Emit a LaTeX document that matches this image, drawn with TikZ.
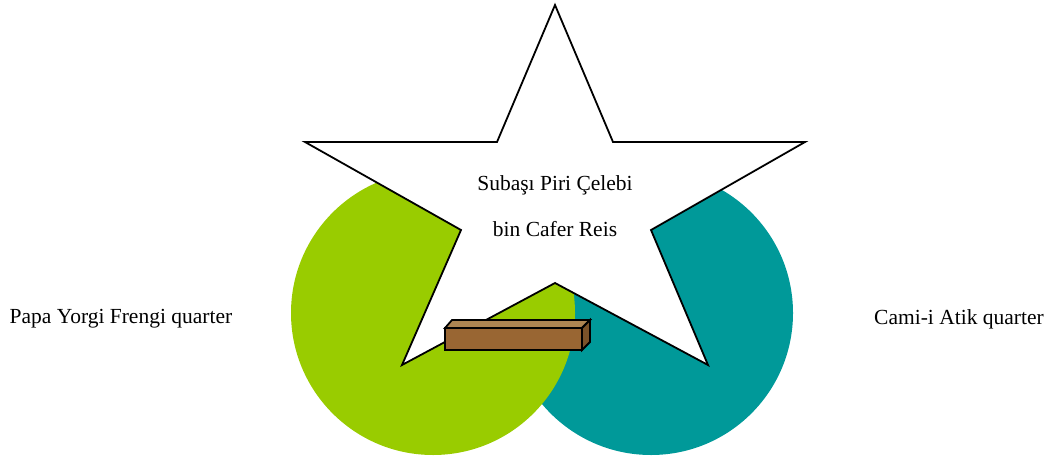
\documentclass[tikz,border=0pt]{standalone}
\usepackage{fontspec}
\setmainfont{Liberation Serif}
\definecolor{lgreen}{RGB}{153,204,0}
\definecolor{lteal}{RGB}{0,153,153}
\definecolor{brickfront}{RGB}{153,102,51}
\definecolor{bricktop}{RGB}{173,133,82}
\definecolor{brickside}{RGB}{122,82,41}
\tikzset{
  lbl/.style={font=\fontsize{21.5}{24}\selectfont, inner sep=0pt},
  edge/.style={draw=black, line width=1.8pt, line join=miter},
}
\begin{document}
\begin{tikzpicture}[x=1pt,y=-1pt]
\useasboundingbox (0,0) rectangle (1051,460);
\fill[lteal] (651,313) circle (142);
\fill[lgreen] (433,313) circle (142);
\draw[edge, fill=white] (555,5) -- (613,142) -- (805,142) -- (651,230) -- (708,365) -- (555,283) -- (402,365) -- (461,230) -- (305,142) -- (497,142) -- cycle;
\coordinate (b1) at (445,328);
\coordinate (b2) at (582,328);
\coordinate (b3) at (582,350);
\coordinate (b4) at (445,350);
\coordinate (t1) at (452,320);
\coordinate (t2) at (590,320);
\coordinate (t3) at (590,342);
\draw[edge, fill=bricktop] (b1) -- (t1) -- (t2) -- (b2) -- cycle;
\draw[edge, fill=brickside] (b2) -- (t2) -- (t3) -- (b3) -- cycle;
\draw[edge, fill=brickfront] (b1) rectangle (b3);
\node[lbl] (s1) at (555,185) {Subaşı Piri Çelebi};
\node[lbl] (s2) at (555,229) {bin Cafer Reis};
\node[lbl] (pl) at (121,319) {Papa Yorgi Frengi quarter};
\node[lbl] (pr) at (959,319) {Cami-i Atik quarter};
\end{tikzpicture}
\end{document}
